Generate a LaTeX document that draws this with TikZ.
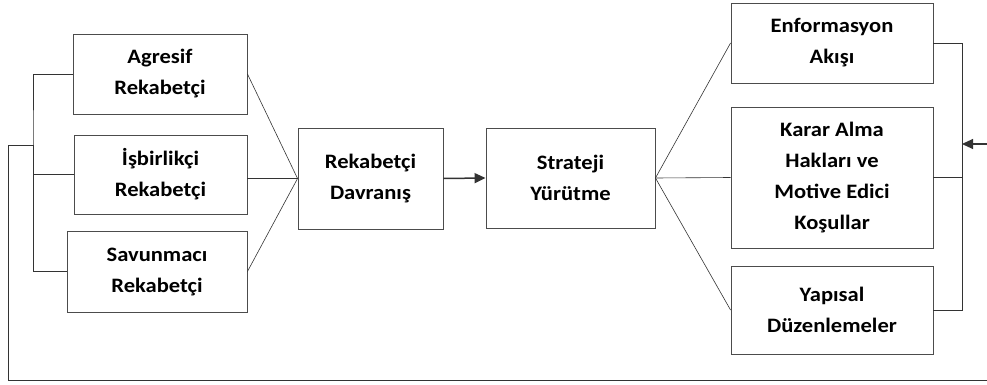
\documentclass[tikz,border=0pt]{standalone}
\usepackage{fontspec}
\setmainfont{Carlito}[FakeStretch=1.1]
\usetikzlibrary{arrows.meta}
\begin{document}
\begin{tikzpicture}[x=1pt, y=-1pt,
    kutu/.style={draw=black!70, line width=0.9pt, align=center, inner sep=0pt,
        font=\fontsize{20.5}{31}\selectfont\bfseries},
    hat/.style={draw=black!80, line width=0.6pt},
    ok/.style={hat, line width=1.5pt, -{Triangle[length=11pt,width=10pt]}}]
    \useasboundingbox (0,0) rectangle (987,385);
    % sol taraf
    \node[kutu, minimum width=174pt, minimum height=80pt] (agr) at (160,74) {Agresif\\Rekabetçi};
    \node[kutu, minimum width=173pt, minimum height=79pt] (isb) at (160.5,174.5) {İşbirlikçi\\Rekabetçi};
    \node[kutu, minimum width=180pt, minimum height=81pt] (sav) at (157,271.5) {Savunmacı\\Rekabetçi};
    \node[kutu, minimum width=145pt, minimum height=101pt] (dav) at (370.5,178.5) {Rekabetçi\\Davranış};
    \node[kutu, minimum width=169pt, minimum height=100pt] (yur) at (570.5,178) {Strateji\\Yürütme};
    % sag taraf
    \node[kutu, minimum width=202pt, minimum height=80pt] (enf) at (832,43) {Enformasyon\\Akışı};
    \node[kutu, minimum width=202pt, minimum height=141pt] (kar) at (832,177.5) {Karar Alma\\Hakları ve\\Motive Edici\\Koşullar};
    \node[kutu, minimum width=202pt, minimum height=88pt] (yap) at (832,310) {Yapısal\\Düzenlemeler};
    \coordinate (solhat) at (33,145);
    \coordinate (sagdis) at (987,144);
    \coordinate (altuc) at (987,380);
    % baglantilar
    \draw[hat] (agr.east) -- (dav.west);
    \draw[hat] (isb.east |- dav.west) -- (dav.west);
    \draw[hat] (sav.east) -- (dav.west);
    \draw[ok] (dav.east) -- (yur.west);
    \draw[hat] (yur.east) -- (enf.west);
    \draw[hat] (yur.east) -- (kar.west);
    \draw[hat] (yur.east) -- (yap.west);
    \draw[hat] (agr.west) -| (solhat) |- (isb.west);
    \draw[hat] (solhat) |- (sav.west);
    \draw[hat] (solhat) -- +(-25,0) |- (altuc);
    \draw[hat] (enf.east) -- +(29,0) |- (yap.east);
    \draw[hat] (kar.east) -- +(29,0);
    \draw[ok, line width=1.1pt] (sagdis) -- +(-25,0);
\end{tikzpicture}
\end{document}
